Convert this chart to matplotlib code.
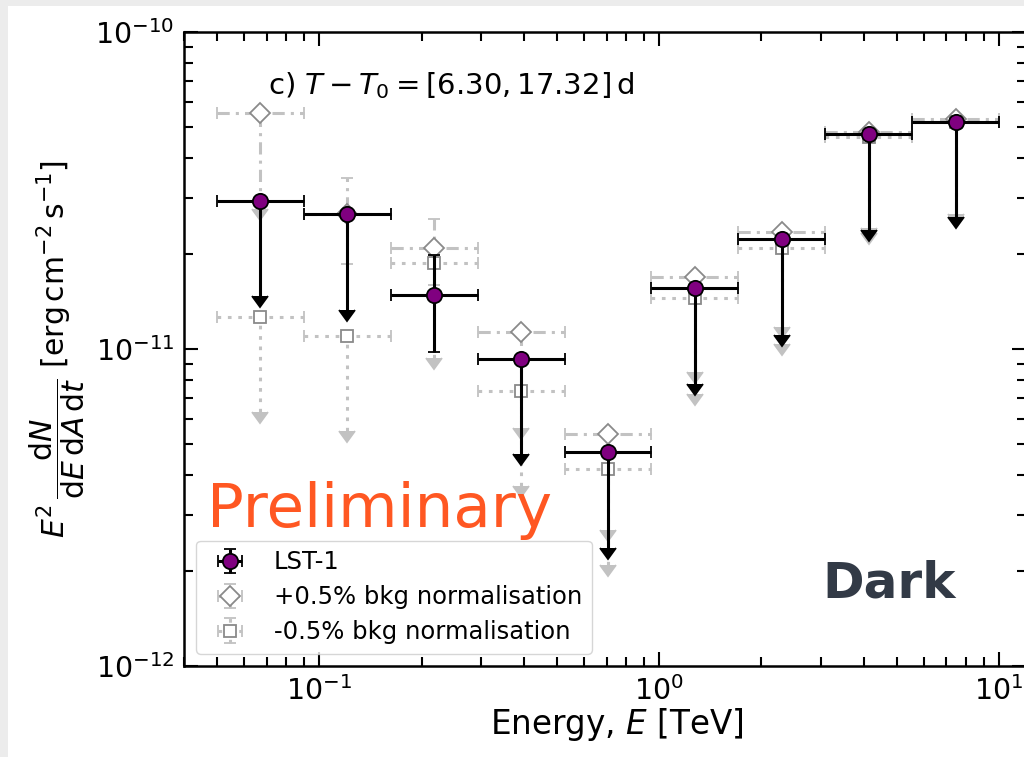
import numpy as np
import matplotlib
matplotlib.use("Agg")
import matplotlib.pyplot as plt
import matplotlib.lines as mlines
from matplotlib.patches import Rectangle

# energy bin edges [TeV] and flux points E^2 dN/dE [erg cm-2 s-1]
e_edges = np.logspace(np.log10(0.05), 1, 10)
e_center = np.sqrt(e_edges[:-1] * e_edges[1:])

lst_flux = [2.94e-11, 2.66e-11, 1.477e-11, 9.30e-12, 4.72e-12, 1.555e-11, 2.22e-11, 4.75e-11, 5.21e-11]
lst_err  = [0, 0, 5.0e-12, 0, 0, 0, 0, 0, 0]
lst_ul   = [True, True, False, True, True, True, True, True, True]

plus_flux = [5.54e-11, 2.66e-11, 2.077e-11, 1.128e-11, 5.38e-12, 1.69e-11, 2.34e-11, 4.83e-11, 5.33e-11]
plus_err  = [0, 8.0e-12, 4.9e-12, 0, 0, 0, 0, 0, 0]
plus_ul   = [True, False, False, True, True, True, True, True, True]

minus_flux = [1.264e-11, 1.099e-11, 1.872e-11, 7.37e-12, 4.17e-12, 1.445e-11, 2.08e-11, 4.66e-11, 5.21e-11]
minus_err  = [0, 0, 0, 0, 0, 0, 0, 0, 0]
minus_ul   = [True, True, True, True, True, True, True, True, True]

plt.rcParams['font.family'] = ['DejaVu Sans']
plt.rcParams['mathtext.fontset'] = 'dejavusans'

fig = plt.figure(figsize=(10.24, 7.57), dpi=100)
fig.patch.set_facecolor('#ececec')
fig.patches.append(Rectangle((8/1024, 0), 1, 1 - 6/757, transform=fig.transFigure,
                             facecolor='white', edgecolor='none', zorder=-10))
ax = fig.add_axes([184/1024, 1 - 666/757, 842/1024, 634/757])


def plot_points(flux, err, ul, marker, ecolor, els, **kw):
    flux = np.array(flux)
    err = np.array(err)
    ul = np.array(ul)
    ylo = np.where(ul, 0.5 * flux, err)
    yhi = np.where(ul, 0.0, err)
    xerr = [e_center - e_edges[:-1], e_edges[1:] - e_center]
    cont = ax.errorbar(e_center, flux, xerr=xerr, yerr=[ylo, yhi], uplims=ul,
                       marker=marker, ls='none', color=ecolor, ecolor=ecolor, **kw)
    for lc in cont[2]:
        lc.set_linestyle(els)
    # bigger arrow heads for the upper limits
    for ln in cont[1]:
        if ln.get_marker() == mlines.CARETDOWNBASE:
            ln.set_markersize(11)
    return cont


h_plus = plot_points(plus_flux, plus_err, plus_ul, 'D', '#c2c2c2', (0, (4, 2, 1, 2)),
                     ms=10, mfc='white', mec='#8a8a8a', mew=1.3, elinewidth=2.2,
                     capsize=4, capthick=1.5, zorder=2)
h_minus = plot_points(minus_flux, minus_err, minus_ul, 's', '#c2c2c2', (0, (1.2, 2.2)),
                      ms=8.5, mfc='white', mec='#8a8a8a', mew=1.3, elinewidth=2.2,
                      capsize=4, capthick=1.5, zorder=2)
h_lst = plot_points(lst_flux, lst_err, lst_ul, 'o', 'black', '-',
                    ms=11, mfc='purple', mec='black', mew=1.3, elinewidth=2.2,
                    capsize=4, capthick=2, zorder=3)

ax.set_xscale('log')
ax.set_yscale('log')
ax.set_xlim(0.04, 12)
ax.set_ylim(1e-12, 1e-10)

for s in ax.spines.values():
    s.set_linewidth(1.8)
ax.tick_params(which='both', direction='in', top=True, right=True, labelsize=20.5)
ax.tick_params(which='major', length=10, width=1.5, pad=7)
ax.tick_params(which='minor', length=6.5, width=1.5)

ax.set_xlabel('Energy, $E$ [TeV]', fontsize=23.5, labelpad=0, x=0.514)
ax.set_ylabel(r'$E^2\,\dfrac{\mathrm{d}N}{\mathrm{d}E\,\mathrm{d}A\,\mathrm{d}t}$ '
              r'$[\mathrm{erg\,cm^{-2}\,s^{-1}}]$', fontsize=21.5, labelpad=6)

ax.text(0.1, 0.94, r'c) $T - T_0 = [6.30, 17.32]\,\mathrm{d}$', transform=ax.transAxes,
        fontsize=21, va='top', ha='left')

ax.legend([h_lst, h_plus, h_minus],
          ['LST-1', '+0.5% bkg normalisation', '-0.5% bkg normalisation'],
          loc='lower left', fontsize=17.5, labelspacing=0.45)

fig.text(207/1024, 1 - 527/757, 'Preliminary', color='#ff5722', fontsize=44,
         ha='left', va='baseline')
fig.text(822/1024, 1 - 598/757, 'Dark', color='#323a46', fontsize=36,
         fontweight='bold', ha='left', va='baseline')

fig.savefig('out.png', dpi=100)
